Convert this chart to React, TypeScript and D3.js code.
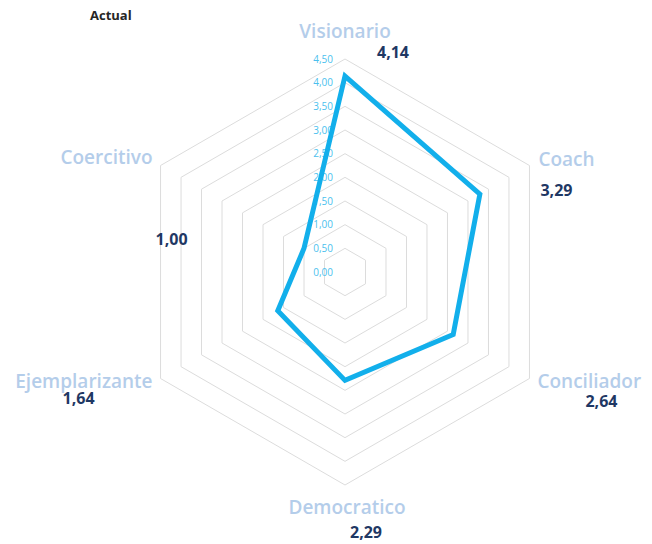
import React from 'react'
import * as d3 from 'd3'

const categories = ['Visionario', 'Coach', 'Conciliador', 'Democratico', 'Ejemplarizante', 'Coercitivo']
const actualValues = [4.14, 3.29, 2.64, 2.29, 1.64, 1.0]
const tickValues = [0, 0.5, 1, 1.5, 2, 2.5, 3, 3.5, 4, 4.5]

// hand placed label offsets (relative to outer vertex of each axis)
const catOffsets = [
  { dx: 0, dy: -28, anchor: 'middle' },
  { dx: 9, dy: -6, anchor: 'start' },
  { dx: 8, dy: 3, anchor: 'start' },
  { dx: 2, dy: 22, anchor: 'middle' },
  { dx: -8, dy: 3, anchor: 'end' },
  { dx: -8, dy: -8, anchor: 'end' },
]
const valOffsets = [
  { dx: 48, dy: -7, anchor: 'middle' },
  { dx: 11, dy: 25, anchor: 'start' },
  { dx: 72, dy: 23, anchor: 'middle' },
  { dx: 21, dy: 47, anchor: 'middle' },
  { dx: -82, dy: 20, anchor: 'middle' },
  { dx: 11, dy: 74, anchor: 'middle' },
]

const App = () => {
  const width = 652
  const height = 544
  const cx = 345
  const cy = 272
  const outer = 213
  const r = d3.scaleLinear().domain([0, 4.5]).range([0, outer])
  const angle = (i: number) => (i * Math.PI * 2) / categories.length

  const radial = d3
    .lineRadial<number>()
    .angle((_, i) => angle(i))
    .radius((d) => r(d))
    .curve(d3.curveLinearClosed)

  const ring = (v: number) => radial(categories.map(() => v)) || ''
  const vertex = (i: number, v: number) => [Math.sin(angle(i)) * r(v), -Math.cos(angle(i)) * r(v)]

  return (
    <svg width={width} height={height} style={{ position: 'absolute', left: 0, top: 0 }}>
      <text x={90} y={20} fontFamily='Open Sans, sans-serif' fontWeight='bold' fontSize={13} fill='#262626'>
        Actual
      </text>
      <g transform={`translate(${cx},${cy})`}>
        {tickValues
          .filter((t) => t > 0)
          .map((t) => (
            <path key={t} d={ring(t)} fill='none' stroke='#DCDCDC' strokeWidth={1} />
          ))}
        {tickValues.map((t) => (
          <text
            key={'t' + t}
            x={-12}
            y={-r(t)}
            dy='0.35em'
            textAnchor='end'
            fontFamily='Open Sans, sans-serif'
            fontSize={10}
            fill='#4BBFEE'
          >
            {t.toFixed(2).replace('.', ',')}
          </text>
        ))}
        <path d={radial(actualValues) || ''} fill='none' stroke='#12AFEB' strokeWidth={5} strokeLinejoin='miter' />
        {categories.map((c, i) => {
          const [x, y] = vertex(i, 4.5)
          const o = catOffsets[i]
          return (
            <text
              key={c}
              x={x + o.dx}
              y={y + o.dy}
              dy='0.35em'
              textAnchor={o.anchor}
              fontFamily='Open Sans, sans-serif'
              fontWeight={600}
              fontSize={19}
              fill='#B4CDEA'
            >
              {c}
            </text>
          )
        })}
        {actualValues.map((v, i) => {
          const [x, y] = vertex(i, 4.5)
          const o = valOffsets[i]
          return (
            <text
              key={'v' + i}
              x={x + o.dx}
              y={y + o.dy}
              dy='0.35em'
              textAnchor={o.anchor}
              fontFamily='Open Sans, sans-serif'
              fontWeight='bold'
              fontSize={16}
              fill='#1F3864'
            >
              {v.toFixed(2).replace('.', ',')}
            </text>
          )
        })}
      </g>
    </svg>
  )
}

export default App
